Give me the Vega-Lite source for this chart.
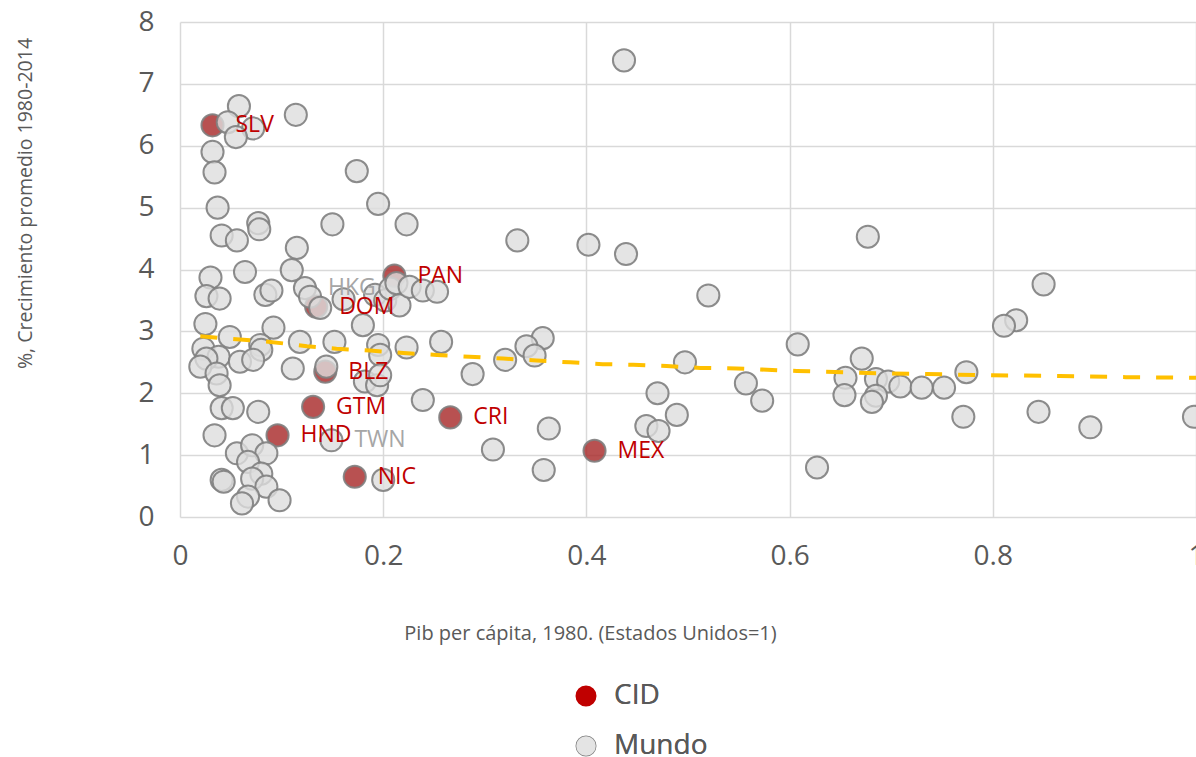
{
  "$schema": "https://vega.github.io/schema/vega-lite/v6.json",
  "autosize": {"type": "none"},
  "padding": {"left": 180, "top": 22, "right": 0, "bottom": 240},
  "width": 1016,
  "height": 495,
  "background": "white",
  "config": {
    "font": "Open Sans",
    "view": {"stroke": null}
  },
  "datasets": {
    "pts": [
      {"pais": "SLV", "grupo": "CID", "pib": 0.032, "crec": 6.33},
      {"pais": "PAN", "grupo": "CID", "pib": 0.211, "crec": 3.9},
      {"pais": "DOM", "grupo": "CID", "pib": 0.134, "crec": 3.4},
      {"pais": "BLZ", "grupo": "CID", "pib": 0.143, "crec": 2.35},
      {"pais": "GTM", "grupo": "CID", "pib": 0.131, "crec": 1.78},
      {"pais": "HND", "grupo": "CID", "pib": 0.096, "crec": 1.32},
      {"pais": "CRI", "grupo": "CID", "pib": 0.266, "crec": 1.61},
      {"pais": "NIC", "grupo": "CID", "pib": 0.172, "crec": 0.65},
      {"pais": "MEX", "grupo": "CID", "pib": 0.408, "crec": 1.07},
      {"pais": "HKG", "grupo": "Mundo", "pib": 0.123, "crec": 3.7},
      {"pais": "TWN", "grupo": "Mundo", "pib": 0.149, "crec": 1.24},
      {"pais": "", "grupo": "Mundo", "pib": 0.058, "crec": 6.64},
      {"pais": "", "grupo": "Mundo", "pib": 0.047, "crec": 6.38},
      {"pais": "", "grupo": "Mundo", "pib": 0.072, "crec": 6.28},
      {"pais": "", "grupo": "Mundo", "pib": 0.055, "crec": 6.14},
      {"pais": "", "grupo": "Mundo", "pib": 0.114, "crec": 6.5},
      {"pais": "", "grupo": "Mundo", "pib": 0.032, "crec": 5.9},
      {"pais": "", "grupo": "Mundo", "pib": 0.034, "crec": 5.57},
      {"pais": "", "grupo": "Mundo", "pib": 0.174, "crec": 5.59},
      {"pais": "", "grupo": "Mundo", "pib": 0.037, "crec": 5.0},
      {"pais": "", "grupo": "Mundo", "pib": 0.195, "crec": 5.06},
      {"pais": "", "grupo": "Mundo", "pib": 0.077, "crec": 4.75},
      {"pais": "", "grupo": "Mundo", "pib": 0.078, "crec": 4.65},
      {"pais": "", "grupo": "Mundo", "pib": 0.15, "crec": 4.73},
      {"pais": "", "grupo": "Mundo", "pib": 0.223, "crec": 4.73},
      {"pais": "", "grupo": "Mundo", "pib": 0.041, "crec": 4.55},
      {"pais": "", "grupo": "Mundo", "pib": 0.056, "crec": 4.47},
      {"pais": "", "grupo": "Mundo", "pib": 0.115, "crec": 4.35},
      {"pais": "", "grupo": "Mundo", "pib": 0.03, "crec": 3.87},
      {"pais": "", "grupo": "Mundo", "pib": 0.064, "crec": 3.96},
      {"pais": "", "grupo": "Mundo", "pib": 0.11, "crec": 3.99},
      {"pais": "", "grupo": "Mundo", "pib": 0.026, "crec": 3.57},
      {"pais": "", "grupo": "Mundo", "pib": 0.039, "crec": 3.53},
      {"pais": "", "grupo": "Mundo", "pib": 0.084, "crec": 3.59},
      {"pais": "", "grupo": "Mundo", "pib": 0.09, "crec": 3.66},
      {"pais": "", "grupo": "Mundo", "pib": 0.128, "crec": 3.56},
      {"pais": "", "grupo": "Mundo", "pib": 0.138, "crec": 3.38},
      {"pais": "", "grupo": "Mundo", "pib": 0.161, "crec": 3.52},
      {"pais": "", "grupo": "Mundo", "pib": 0.192, "crec": 3.59},
      {"pais": "", "grupo": "Mundo", "pib": 0.202, "crec": 3.5},
      {"pais": "", "grupo": "Mundo", "pib": 0.207, "crec": 3.69},
      {"pais": "", "grupo": "Mundo", "pib": 0.213, "crec": 3.78},
      {"pais": "", "grupo": "Mundo", "pib": 0.216, "crec": 3.42},
      {"pais": "", "grupo": "Mundo", "pib": 0.226, "crec": 3.72},
      {"pais": "", "grupo": "Mundo", "pib": 0.239, "crec": 3.66},
      {"pais": "", "grupo": "Mundo", "pib": 0.253, "crec": 3.64},
      {"pais": "", "grupo": "Mundo", "pib": 0.025, "crec": 3.12},
      {"pais": "", "grupo": "Mundo", "pib": 0.092, "crec": 3.06},
      {"pais": "", "grupo": "Mundo", "pib": 0.18, "crec": 3.1},
      {"pais": "", "grupo": "Mundo", "pib": 0.049, "crec": 2.91},
      {"pais": "", "grupo": "Mundo", "pib": 0.023, "crec": 2.72},
      {"pais": "", "grupo": "Mundo", "pib": 0.079, "crec": 2.78},
      {"pais": "", "grupo": "Mundo", "pib": 0.08, "crec": 2.7},
      {"pais": "", "grupo": "Mundo", "pib": 0.038, "crec": 2.59},
      {"pais": "", "grupo": "Mundo", "pib": 0.059, "crec": 2.51},
      {"pais": "", "grupo": "Mundo", "pib": 0.072, "crec": 2.54},
      {"pais": "", "grupo": "Mundo", "pib": 0.026, "crec": 2.56},
      {"pais": "", "grupo": "Mundo", "pib": 0.02, "crec": 2.43},
      {"pais": "", "grupo": "Mundo", "pib": 0.036, "crec": 2.32},
      {"pais": "", "grupo": "Mundo", "pib": 0.039, "crec": 2.13},
      {"pais": "", "grupo": "Mundo", "pib": 0.118, "crec": 2.83},
      {"pais": "", "grupo": "Mundo", "pib": 0.152, "crec": 2.83},
      {"pais": "", "grupo": "Mundo", "pib": 0.111, "crec": 2.4},
      {"pais": "", "grupo": "Mundo", "pib": 0.144, "crec": 2.43},
      {"pais": "", "grupo": "Mundo", "pib": 0.195, "crec": 2.78},
      {"pais": "", "grupo": "Mundo", "pib": 0.197, "crec": 2.62},
      {"pais": "", "grupo": "Mundo", "pib": 0.182, "crec": 2.19},
      {"pais": "", "grupo": "Mundo", "pib": 0.194, "crec": 2.13},
      {"pais": "", "grupo": "Mundo", "pib": 0.197, "crec": 2.29},
      {"pais": "", "grupo": "Mundo", "pib": 0.223, "crec": 2.74},
      {"pais": "", "grupo": "Mundo", "pib": 0.257, "crec": 2.83},
      {"pais": "", "grupo": "Mundo", "pib": 0.288, "crec": 2.31},
      {"pais": "", "grupo": "Mundo", "pib": 0.239, "crec": 1.89},
      {"pais": "", "grupo": "Mundo", "pib": 0.041, "crec": 1.76},
      {"pais": "", "grupo": "Mundo", "pib": 0.052, "crec": 1.76},
      {"pais": "", "grupo": "Mundo", "pib": 0.077, "crec": 1.7},
      {"pais": "", "grupo": "Mundo", "pib": 0.034, "crec": 1.32},
      {"pais": "", "grupo": "Mundo", "pib": 0.056, "crec": 1.03},
      {"pais": "", "grupo": "Mundo", "pib": 0.071, "crec": 1.16},
      {"pais": "", "grupo": "Mundo", "pib": 0.085, "crec": 1.03},
      {"pais": "", "grupo": "Mundo", "pib": 0.067, "crec": 0.89},
      {"pais": "", "grupo": "Mundo", "pib": 0.08, "crec": 0.7},
      {"pais": "", "grupo": "Mundo", "pib": 0.071, "crec": 0.62},
      {"pais": "", "grupo": "Mundo", "pib": 0.041, "crec": 0.6},
      {"pais": "", "grupo": "Mundo", "pib": 0.043, "crec": 0.57},
      {"pais": "", "grupo": "Mundo", "pib": 0.085, "crec": 0.49},
      {"pais": "", "grupo": "Mundo", "pib": 0.067, "crec": 0.33},
      {"pais": "", "grupo": "Mundo", "pib": 0.061, "crec": 0.22},
      {"pais": "", "grupo": "Mundo", "pib": 0.098, "crec": 0.27},
      {"pais": "", "grupo": "Mundo", "pib": 0.2, "crec": 0.6},
      {"pais": "", "grupo": "Mundo", "pib": 0.308, "crec": 1.09},
      {"pais": "", "grupo": "Mundo", "pib": 0.332, "crec": 4.47},
      {"pais": "", "grupo": "Mundo", "pib": 0.402, "crec": 4.4},
      {"pais": "", "grupo": "Mundo", "pib": 0.439, "crec": 4.25},
      {"pais": "", "grupo": "Mundo", "pib": 0.437, "crec": 7.38},
      {"pais": "", "grupo": "Mundo", "pib": 0.52, "crec": 3.58},
      {"pais": "", "grupo": "Mundo", "pib": 0.357, "crec": 2.89},
      {"pais": "", "grupo": "Mundo", "pib": 0.341, "crec": 2.76},
      {"pais": "", "grupo": "Mundo", "pib": 0.349, "crec": 2.61},
      {"pais": "", "grupo": "Mundo", "pib": 0.32, "crec": 2.54},
      {"pais": "", "grupo": "Mundo", "pib": 0.497, "crec": 2.5},
      {"pais": "", "grupo": "Mundo", "pib": 0.557, "crec": 2.16},
      {"pais": "", "grupo": "Mundo", "pib": 0.47, "crec": 2.0},
      {"pais": "", "grupo": "Mundo", "pib": 0.489, "crec": 1.65},
      {"pais": "", "grupo": "Mundo", "pib": 0.459, "crec": 1.47},
      {"pais": "", "grupo": "Mundo", "pib": 0.471, "crec": 1.39},
      {"pais": "", "grupo": "Mundo", "pib": 0.363, "crec": 1.43},
      {"pais": "", "grupo": "Mundo", "pib": 0.358, "crec": 0.76},
      {"pais": "", "grupo": "Mundo", "pib": 0.677, "crec": 4.53},
      {"pais": "", "grupo": "Mundo", "pib": 0.85, "crec": 3.76},
      {"pais": "", "grupo": "Mundo", "pib": 0.823, "crec": 3.18},
      {"pais": "", "grupo": "Mundo", "pib": 0.811, "crec": 3.09},
      {"pais": "", "grupo": "Mundo", "pib": 0.608, "crec": 2.79},
      {"pais": "", "grupo": "Mundo", "pib": 0.671, "crec": 2.56},
      {"pais": "", "grupo": "Mundo", "pib": 0.655, "crec": 2.25},
      {"pais": "", "grupo": "Mundo", "pib": 0.685, "crec": 2.23},
      {"pais": "", "grupo": "Mundo", "pib": 0.697, "crec": 2.19},
      {"pais": "", "grupo": "Mundo", "pib": 0.709, "crec": 2.11},
      {"pais": "", "grupo": "Mundo", "pib": 0.73, "crec": 2.09},
      {"pais": "", "grupo": "Mundo", "pib": 0.752, "crec": 2.09},
      {"pais": "", "grupo": "Mundo", "pib": 0.774, "crec": 2.34},
      {"pais": "", "grupo": "Mundo", "pib": 0.654, "crec": 1.97},
      {"pais": "", "grupo": "Mundo", "pib": 0.685, "crec": 1.96},
      {"pais": "", "grupo": "Mundo", "pib": 0.681, "crec": 1.86},
      {"pais": "", "grupo": "Mundo", "pib": 0.573, "crec": 1.88},
      {"pais": "", "grupo": "Mundo", "pib": 0.771, "crec": 1.62},
      {"pais": "", "grupo": "Mundo", "pib": 0.845, "crec": 1.7},
      {"pais": "", "grupo": "Mundo", "pib": 0.896, "crec": 1.45},
      {"pais": "", "grupo": "Mundo", "pib": 0.998, "crec": 1.62},
      {"pais": "", "grupo": "Mundo", "pib": 0.627, "crec": 0.8}
    ],
    "trend": [
      {"pib": 0.02, "crec": 2.92},
      {"pib": 0.089, "crec": 2.83},
      {"pib": 0.125, "crec": 2.76},
      {"pib": 0.154, "crec": 2.72},
      {"pib": 0.187, "crec": 2.69},
      {"pib": 0.22, "crec": 2.65},
      {"pib": 0.253, "crec": 2.62},
      {"pib": 0.285, "crec": 2.59},
      {"pib": 0.318, "crec": 2.56},
      {"pib": 0.351, "crec": 2.53},
      {"pib": 0.384, "crec": 2.5},
      {"pib": 0.416, "crec": 2.47},
      {"pib": 0.446, "crec": 2.46},
      {"pib": 0.479, "crec": 2.44},
      {"pib": 0.512, "crec": 2.41},
      {"pib": 0.548, "crec": 2.4},
      {"pib": 0.607, "crec": 2.36},
      {"pib": 0.669, "crec": 2.33},
      {"pib": 0.735, "crec": 2.31},
      {"pib": 0.8, "crec": 2.29},
      {"pib": 0.866, "crec": 2.28},
      {"pib": 0.931, "crec": 2.26},
      {"pib": 1.0, "crec": 2.25}
    ],
    "leyenda": [
      {"grupo": "CID", "pib": 0.5, "crec": 4},
      {"grupo": "Mundo", "pib": 0.5, "crec": 4}
    ]
  },
  "encoding": {
    "x": {
      "field": "pib", "type": "quantitative",
      "scale": {"domain": [0, 1], "nice": false, "zero": false},
      "axis": {
        "values": [0, 0.2, 0.4, 0.6, 0.8, 1],
        "format": "~g",
        "domain": false, "ticks": false,
        "grid": true, "gridColor": "#D9D9D9", "gridWidth": 1.5,
        "labelFontSize": 28, "labelColor": "#595959", "labelPadding": 25,
        "labelFlush": false, "labelOverlap": false,
        "title": "Pib per cápita, 1980. (Estados Unidos=1)",
        "titleFontSize": 20, "titleFontWeight": "normal", "titleColor": "#595959",
        "titleX": 410, "titleY": 122, "titleBaseline": "alphabetic", "titleAlign": "center"
      }
    },
    "y": {
      "field": "crec", "type": "quantitative",
      "scale": {"domain": [0, 8], "nice": false},
      "axis": {
        "values": [0, 1, 2, 3, 4, 5, 6, 7, 8],
        "domain": false, "ticks": false,
        "grid": true, "gridColor": "#D9D9D9", "gridWidth": 1.5,
        "labelFontSize": 28, "labelColor": "#595959", "labelPadding": 26,
        "labelFlush": false, "labelOverlap": false,
        "title": "%, Crecimiento promedio 1980-2014",
        "titleFontSize": 19.5, "titleFontWeight": "normal", "titleColor": "#595959",
        "titleX": -149, "titleY": 181, "titleAngle": -90, "titleAlign": "center", "titleBaseline": "alphabetic"
      }
    }
  },
  "layer": [
    {
      "data": {"name": "pts"},
      "mark": {"type": "point", "shape": "circle", "filled": true, "size": 490, "fillOpacity": 0.8, "stroke": "#808080", "strokeWidth": 2, "strokeOpacity": 0.9},
      "encoding": {
        "fill": {
          "field": "grupo", "type": "nominal",
          "scale": {"domain": ["CID", "Mundo"], "range": ["#A62626", "#DDDDDD"]},
          "legend": null
        }
      }
    },
    {
      "data": {"name": "trend"},
      "mark": {"type": "line", "color": "#FFC000", "strokeWidth": 4, "strokeDash": [17, 16]},
      "encoding": {}
    },
    {
      "data": {"name": "pts"},
      "mark": {"type": "text", "align": "left", "baseline": "middle", "dx": 23, "fontSize": 23},
      "encoding": {
        "text": {"field": "pais"},
        "color": {"condition": {"test": "datum.grupo === 'CID'", "value": "#C00000"}, "value": "#A6A6A6"}
      }
    },
    {
      "data": {"name": "leyenda"},
      "mark": {"type": "point", "shape": "circle", "filled": true, "size": 380, "opacity": 0, "strokeWidth": 1.5},
      "encoding": {
        "fill": {
          "field": "grupo", "type": "nominal",
          "scale": {"domain": ["CID", "Mundo"], "range": ["#C00000", "#E4E4E4"]},
          "legend": {
            "title": null,
            "orient": "none",
            "direction": "vertical",
            "legendX": 392,
            "legendY": 660,
            "padding": 0,
            "symbolType": "circle",
            "symbolSize": 380,
            "symbolOpacity": 1,
            "symbolStrokeWidth": 1.5,
            "labelFontSize": 28,
            "labelColor": "#595959",
            "labelOffset": 14,
            "rowPadding": 22
          }
        },
        "stroke": {
          "field": "grupo", "type": "nominal",
          "scale": {"domain": ["CID", "Mundo"], "range": ["#C00000", "#7F7F7F"]},
          "legend": {
            "title": null,
            "orient": "none",
            "direction": "vertical",
            "legendX": 392,
            "legendY": 660,
            "padding": 0,
            "symbolType": "circle",
            "symbolSize": 380,
            "symbolOpacity": 1,
            "symbolStrokeWidth": 1.5,
            "labelFontSize": 28,
            "labelColor": "#595959",
            "labelOffset": 14,
            "rowPadding": 22
          }
        }
      }
    }
  ],
  "resolve": {"scale": {"fill": "independent"}}
}
